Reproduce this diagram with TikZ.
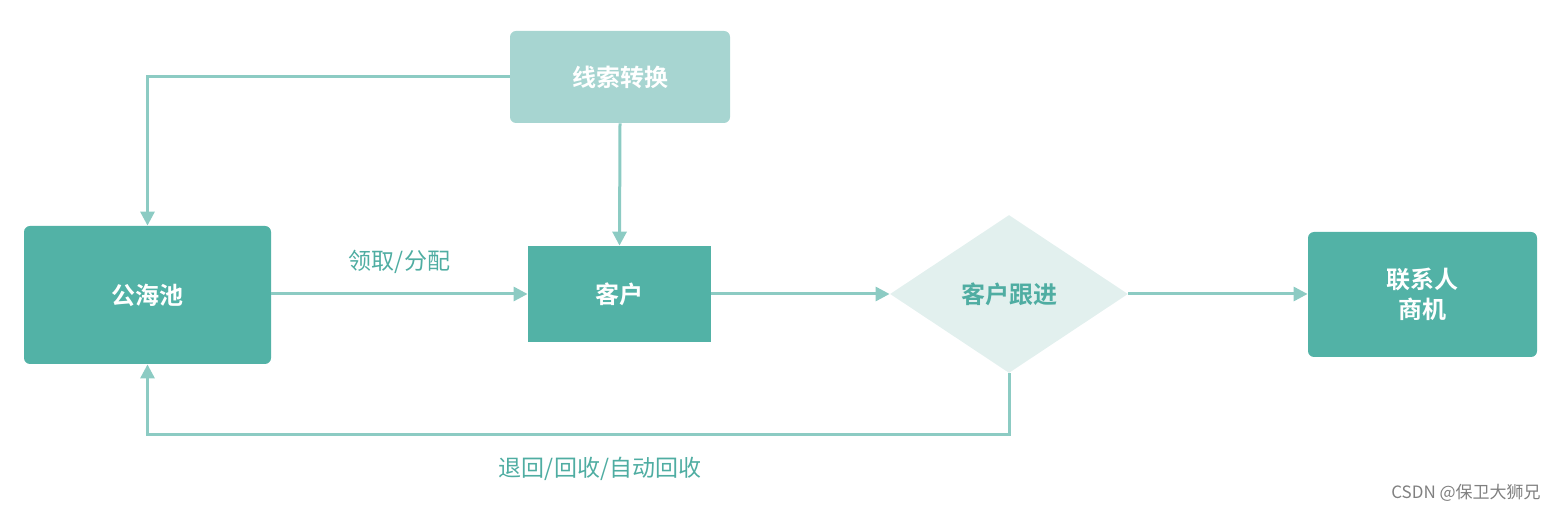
\documentclass[tikz,border=0pt]{standalone}
\usepackage{fontspec}
\setmainfont{Noto Sans CJK SC}
\newfontfamily\cjkb{Noto Sans CJK SC Bold}
\usetikzlibrary{shapes.geometric,arrows.meta}
\definecolor{dk}{HTML}{52B2A6}
\definecolor{lt}{HTML}{A7D5D1}
\definecolor{pale}{HTML}{E2F0EE}
\definecolor{ln}{HTML}{8CCBC3}
\definecolor{lbl}{HTML}{4FADA2}
\tikzset{
 box/.style={fill=dk,text=white,font=\cjkb\fontsize{12}{15}\selectfont,align=center,inner sep=0pt},
 conn/.style={draw=ln,line width=1.5pt,-{Triangle[length=7pt,width=7pt]}},
 lab/.style={text=lbl,font=\fontsize{11.5}{14}\selectfont}
}
\begin{document}
\begin{tikzpicture}[x=0.5pt,y=-0.5pt]
\useasboundingbox (0,0) rectangle (1568,512);
\node[box,fill=lt,rounded corners=3pt,minimum width=110pt,minimum height=46pt] (xs) at (620,77) {线索转换};
\node[box,rounded corners=3pt,minimum width=123.5pt,minimum height=69pt] (gh) at (147.5,295) {公海池};
\node[box,minimum width=91.5pt,minimum height=48pt] (kh) at (619.5,294) {客户};
\node[diamond,fill=pale,aspect=1.5,minimum width=119pt,minimum height=79pt,inner sep=0pt,text=lbl,font=\cjkb\fontsize{12}{15}\selectfont] (gj) at (1009,294) {客户跟进};
\node[box,rounded corners=3pt,minimum width=114.5pt,minimum height=62.5pt] (lx) at (1422.5,294.5) {联系人\\商机};
\draw[conn] (xs.west) -| (gh.north);
\draw[conn] (xs.south) -- (kh.north);
\draw[conn] (gh.east |- kh) -- node[lab,above=6pt]{领取/分配} (kh.west);
\draw[conn] (kh.east) -- (gj.west);
\draw[conn] (gj.east) -- (lx.west |- gj);
\coordinate (c1) at (1009,435);
\draw[conn] (gj.south) -- (c1) -| (gh.south);
\node[lab] (l2) at (600,469) {退回/回收/自动回收};
\node[text=gray,font=\fontsize{8.5}{10}\selectfont] (wm) at (1466,493) {CSDN @保卫大狮兄};
\end{tikzpicture}
\end{document}
